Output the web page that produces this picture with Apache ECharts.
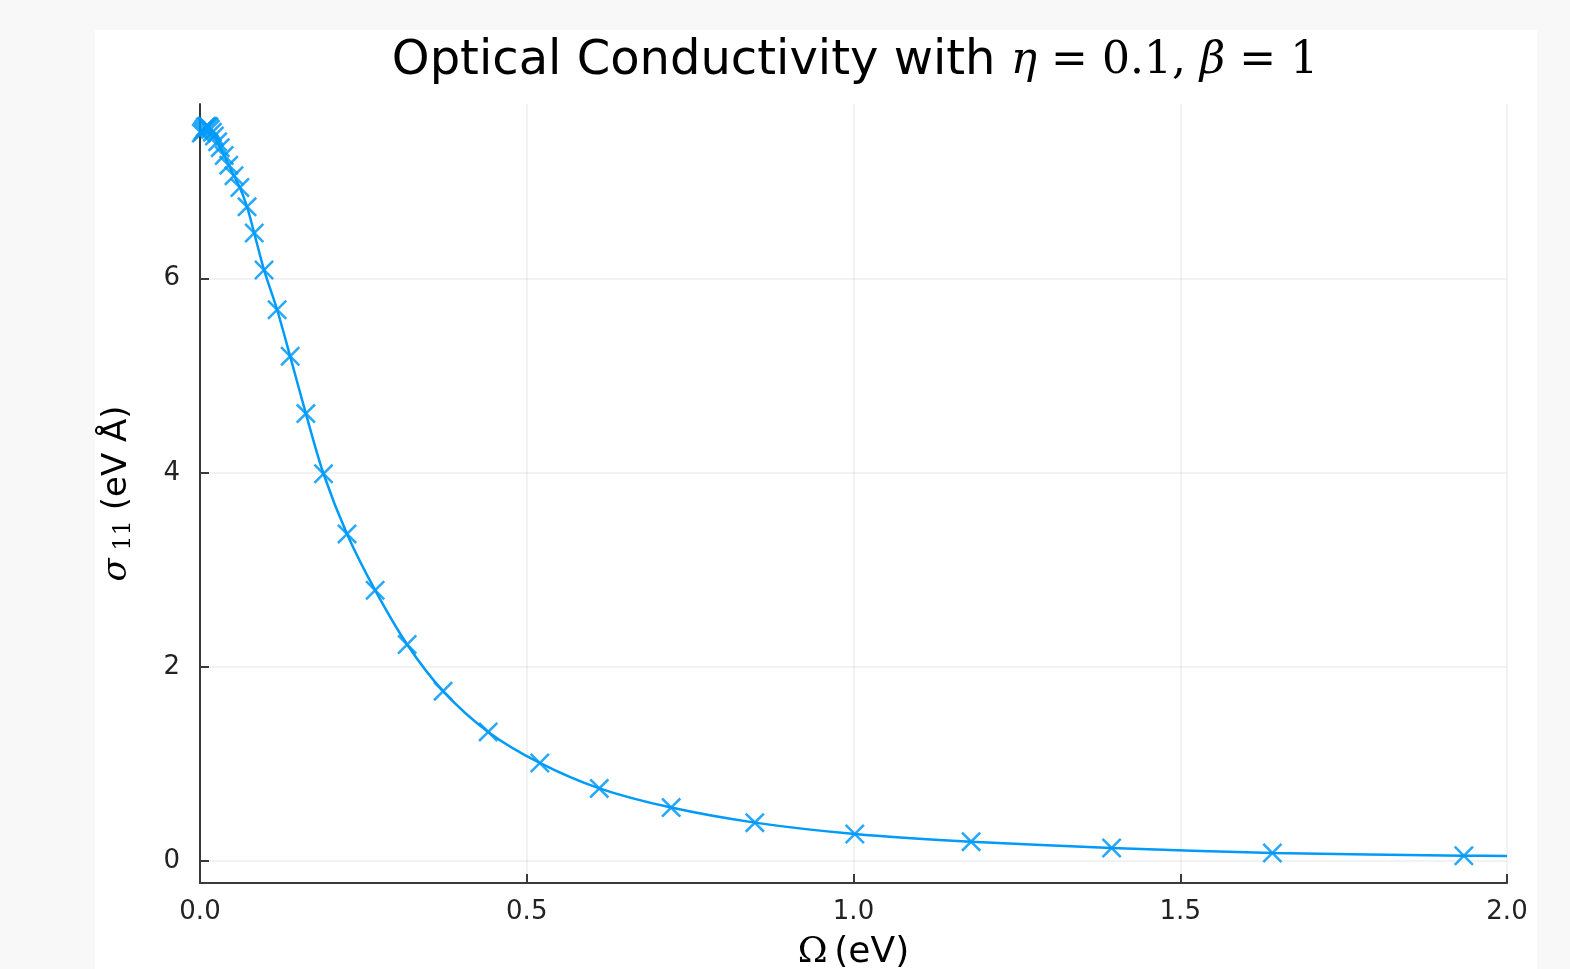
<!DOCTYPE html>
<html>
<head>
<meta charset="utf-8">
<script src="https://cdn.jsdelivr.net/npm/echarts@6/dist/echarts.min.js"></script>
<style>
  html, body { margin: 0; padding: 0; background: #f8f8f8; width: 1570px; height: 969px; overflow: hidden; }
  #main { position: absolute; left: 95px; top: 30px; width: 1442px; height: 939px; background: #ffffff; }
</style>
</head>
<body>
<div id="main"></div>
<script>
// marker positions (Omega in eV, sigma_11 in eV Å)
var omega = [0.002, 0.004, 0.006, 0.008, 0.010, 0.012, 0.014, 0.016, 0.019, 0.022,
             0.027, 0.031, 0.037, 0.044, 0.052, 0.061, 0.072, 0.083, 0.098, 0.118,
             0.138, 0.162, 0.189, 0.225, 0.268, 0.317, 0.372, 0.441, 0.520, 0.611,
             0.721, 0.849, 1.002, 1.180, 1.395, 1.641, 1.934];
var sigma = [7.50, 7.52, 7.54, 7.56, 7.57, 7.57, 7.56, 7.54, 7.51, 7.47,
             7.41, 7.35, 7.27, 7.17, 7.06, 6.94, 6.74, 6.47, 6.09, 5.68,
             5.20, 4.61, 3.99, 3.37, 2.79, 2.23, 1.75, 1.33, 1.01, 0.748,
             0.55, 0.395, 0.278, 0.199, 0.134, 0.082, 0.054];
// the line carries on to the right edge
var lineOmega = [0.0].concat(omega, [2.0]);
var lineSigma = [7.48].concat(sigma, [0.052]);

var yTicks = [0, 2, 4, 6];

var lineData = lineOmega.map(function (x, i) { return [x, lineSigma[i]]; });
var markData = omega.map(function (x, i) { return [x, sigma[i]]; });

var xMark = 'path://M0,1.8L1.8,0L10,8.2L18.2,0L20,1.8L11.8,10L20,18.2L18.2,20L10,11.8L1.8,20L0,18.2L8.2,10Z';
var blue = '#009af9';
var axisCol = '#3a3a3a';
var gridCol = 'rgba(0,0,0,0.07)';

var chart = echarts.init(document.getElementById('main'));
chart.setOption({
    animation: false,
    title: {
        text: '{a|Optical Conductivity with }{i|η}{r| = 0.1, }{i|β}{r| = 1}',
        left: 755,
        textAlign: 'center',
        top: 3,
        textStyle: {
            rich: {
                a: { fontFamily: 'DejaVu Sans', fontWeight: 'normal', fontSize: 48, color: '#000' },
                i: { fontFamily: 'DejaVu Serif', fontWeight: 'normal', fontStyle: 'italic', fontSize: 44, color: '#000' },
                r: { fontFamily: 'DejaVu Serif', fontWeight: 'normal', fontSize: 44, color: '#000' }
            }
        }
    },
    grid: {
        left: 105,
        right: 30,
        top: 74,
        bottom: 86,
        outerBoundsMode: 'none'
    },
    xAxis: {
        type: 'value',
        min: 0,
        max: 2,
        interval: 0.5,
        name: '{o|Ω}  {t|(eV)}',
        nameLocation: 'middle',
        nameGap: 52,
        nameTextStyle: {
            rich: {
                o: { fontFamily: 'DejaVu Serif', fontSize: 36, color: '#000' },
                t: { fontFamily: 'DejaVu Sans', fontSize: 36, color: '#000' }
            }
        },
        axisLine: { onZero: false, lineStyle: { color: axisCol, width: 2 } },
        axisTick: { inside: true, length: 9, lineStyle: { color: axisCol, width: 2 } },
        axisLabel: {
            margin: 16,
            fontFamily: 'DejaVu Sans',
            fontSize: 26,
            color: '#222',
            formatter: function (v) { return v.toFixed(1); }
        },
        splitLine: { show: true, lineStyle: { color: gridCol, width: 1.5 } }
    },
    yAxis: {
        type: 'value',
        min: -0.227,
        max: 7.8,
        name: '{s|σ}{sub| 11}   {t|(eV Å)}',
        nameLocation: 'middle',
        nameGap: 64,
        nameRotate: 90,
        nameTextStyle: {
            rich: {
                s: { fontFamily: 'DejaVu Serif', fontStyle: 'italic', fontSize: 34, color: '#000' },
                sub: { fontFamily: 'DejaVu Serif', fontSize: 24, color: '#000', verticalAlign: 'bottom', padding: [14, 0, 0, 0] },
                t: { fontFamily: 'DejaVu Sans', fontSize: 34, color: '#000' }
            }
        },
        axisLine: { show: true, lineStyle: { color: axisCol, width: 2 } },
        axisTick: { show: true, inside: true, length: 9, customValues: yTicks, lineStyle: { color: axisCol, width: 2 } },
        axisLabel: {
            margin: 20,
            fontFamily: 'DejaVu Sans',
            fontSize: 26,
            color: '#222',
            customValues: yTicks
        },
        splitLine: { show: true, lineStyle: { color: gridCol, width: 1.5 } }
    },
    series: [
        {
            type: 'line',
            data: lineData,
            smooth: 0.3,
            showSymbol: false,
            lineStyle: { color: blue, width: 2.5 },
            clip: true,
            z: 2
        },
        {
            type: 'scatter',
            data: markData,
            symbol: xMark,
            symbolSize: 20,
            itemStyle: { color: blue, opacity: 0.85 },
            z: 3
        }
    ]
});
</script>
</body>
</html>
